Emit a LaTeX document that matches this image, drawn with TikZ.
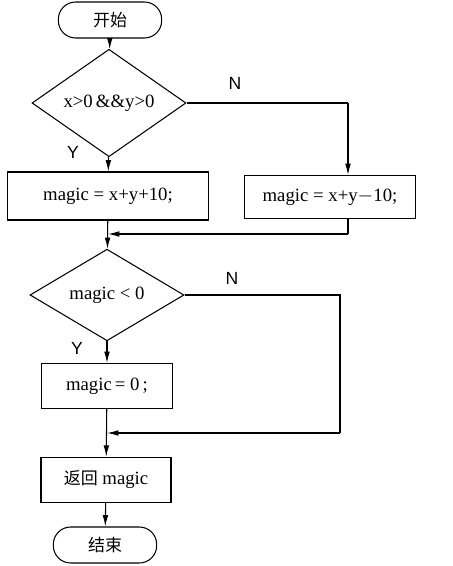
\documentclass[tikz,border=0pt]{standalone}
\usepackage{fontspec}
\setmainfont{Liberation Serif}
\newfontfamily\cjk{Noto Sans CJK SC}
\newfontfamily\labelfont{Liberation Sans}
\usepackage{tikz}
\usetikzlibrary{shapes,arrows.meta,positioning,calc}

\begin{document}
\begin{tikzpicture}[
                every node/.style={inner sep=2pt},
                terminal/.style={draw, line width=0.9pt, minimum width=3.1cm, minimum height=1.08cm, rounded corners=0.52cm, font=\fontsize{14.5}{17}\selectfont\cjk},
                decision/.style={draw, diamond, line width=0.9pt, minimum width=4.62cm, minimum height=2.31cm, inner sep=0pt, font=\fontsize{16}{19}\selectfont},
                process/.style={draw, line width=0.9pt, minimum height=1.35cm, font=\fontsize{16}{19}\selectfont},
                branch/.style={font=\fontsize{15}{18}\selectfont\labelfont},
                line/.style={line width=0.9pt},
                arrow/.style={line width=0.9pt, -{Latex[length=3.4mm, width=1.7mm]}}
            ]
                % Page frame
                \useasboundingbox (0,0) rectangle (13.56,-16.98);

                % Main column
                \node[terminal] (start) at (3.30,-0.60) {开始};
                \node[decision] (cond1) at (3.27,-3.09) {x>0\,\&\&y>0};
                \node[process, minimum width=6.03cm, minimum height=1.44cm] (plus) at (3.24,-5.88) {magic = x+y+10;};
                \node[process, minimum width=5.13cm, minimum height=1.29cm] (minus) at (9.90,-5.91) {magic = x+y$-$10;};
                \node[decision] (cond2) at (3.21,-8.85) {magic < 0};
                \node[process, minimum width=3.93cm] (zero) at (3.21,-11.58) {magic\,= 0\,;};
                \node[process, minimum width=3.90cm] (ret) at (3.18,-14.39) {{\cjk\fontsize{14.5}{17}\selectfont 返回} magic};
                \node[terminal] (stop) at (3.15,-16.35) {结束};

                % Branch labels
                \node[branch] (y1) at (2.19,-4.56) {Y};
                \node[branch] (n1) at (7.05,-2.49) {N};
                \node[branch] (n2) at (6.96,-8.34) {N};
                \node[branch] (y2) at (2.31,-10.44) {Y};

                % Corner points of the side paths
                \coordinate (c1) at (10.44,-3.09);
                \coordinate (m1) at (10.44,-7.02);
                \coordinate (c2) at (10.20,-8.85);
                \coordinate (m2) at (10.20,-12.99);

                % Connections
                \draw[arrow] (start) -- (cond1);
                \draw[arrow] (cond1) -- (plus);
                \draw[line] (cond1.east) -- (c1);
                \draw[arrow] (c1) -- (c1 |- minus.north);
                \draw[line] (c1 |- minus.south) -- (m1);
                \draw[arrow] (m1) -- (m1 -| plus.south);
                \draw[arrow] (plus) -- (cond2);
                \draw[arrow] (cond2) -- (zero);
                \draw[line] (cond2.east) -- (c2) -- (m2);
                \draw[arrow] (m2) -- (m2 -| zero.south);
                \draw[arrow] (zero) -- (ret);
                \draw[arrow] (ret) -- (stop);
            \end{tikzpicture}
\end{document}
